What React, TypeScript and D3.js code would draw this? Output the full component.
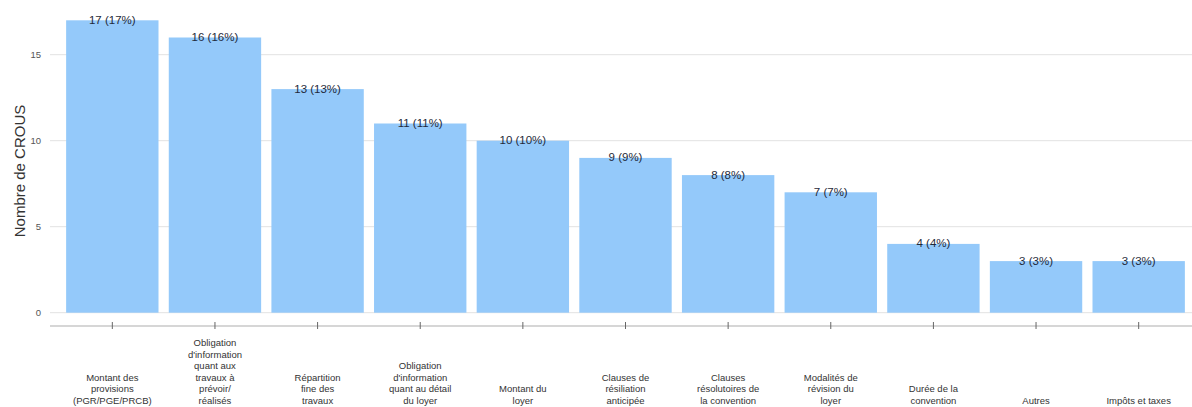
import React from "react";
import * as d3 from "d3";

const categories: string[][] = [
  ["Montant des", "provisions", "(PGR/PGE/PRCB)"],
  ["Obligation", "d'information", "quant aux", "travaux à", "prévoir/", "réalisés"],
  ["Répartition", "fine des", "travaux"],
  ["Obligation", "d'information", "quant au détail", "du loyer"],
  ["Montant du", "loyer"],
  ["Clauses de", "résiliation", "anticipée"],
  ["Clauses", "résolutoires de", "la convention"],
  ["Modalités de", "révision du", "loyer"],
  ["Durée de la", "convention"],
  ["Autres"],
  ["Impôts et taxes"],
];
const counts: number[] = [17, 16, 13, 11, 10, 9, 8, 7, 4, 3, 3];
const percents: number[] = [17, 16, 13, 11, 10, 9, 8, 7, 4, 3, 3];
const yTicks: number[] = [0, 5, 10, 15];

const W = 1192;
const H = 407;

export default function App() {
  const ids = categories.map((_, i) => String(i));
  const x = d3.scaleBand<string>().domain(ids).range([61, 1190]).paddingInner(0.1).paddingOuter(0.05);
  const y = d3.scaleLinear().domain([0, 15]).range([312.7, 54.7]);
  const font = "'Liberation Sans', Arial, sans-serif";
  const axisY = 326;
  const lineH = 11.6;
  const lastBase = 404;

  return (
    <svg width={W} height={H} style={{ position: "absolute", left: 0, top: 0, fontFamily: font }}>
      <rect x={0} y={0} width={W} height={H} fill="#fff" />
      {yTicks.map((t) => (
        <g key={t}>
          <line x1={50} x2={W} y1={y(t)} y2={y(t)} stroke="#e2e2e2" strokeWidth={1} />
          <text x={41} y={y(t)} dy="0.35em" textAnchor="end" fontSize={9.5} fill="#555">
            {t}
          </text>
        </g>
      ))}
      <text
        transform={`translate(20,${171}) rotate(-90)`}
        textAnchor="middle"
        dy="0.35em"
        fontSize={15}
        fill="#333"
      >
        Nombre de CROUS
      </text>
      {counts.map((c, i) => (
        <rect
          key={i}
          x={x(ids[i])!}
          y={y(c)}
          width={x.bandwidth()}
          height={y(0) - y(c)}
          fill="#94c9fa"
        />
      ))}
      {counts.map((c, i) => (
        <text
          key={i}
          x={x(ids[i])! + x.bandwidth() / 2}
          y={y(c)}
          dy="0.3em"
          textAnchor="middle"
          fontSize={11.5}
          fill="#1f2a3a"
        >
          {`${c} (${percents[i]}%)`}
        </text>
      ))}
      <line x1={50} x2={W} y1={axisY} y2={axisY} stroke="#c8c8c8" strokeWidth={1.5} />
      {ids.map((id, i) => {
        const cx = x(id)! + x.bandwidth() / 2;
        const lines = categories[i];
        return (
          <g key={i}>
            <line x1={cx} x2={cx} y1={axisY - 4} y2={axisY + 3} stroke="#666" strokeWidth={1} />
            {lines.map((l, j) => (
              <text
                key={j}
                x={cx}
                y={lastBase - (lines.length - 1 - j) * lineH}
                textAnchor="middle"
                fontSize={9.5}
                fill="#333"
              >
                {l}
              </text>
            ))}
          </g>
        );
      })}
    </svg>
  );
}
